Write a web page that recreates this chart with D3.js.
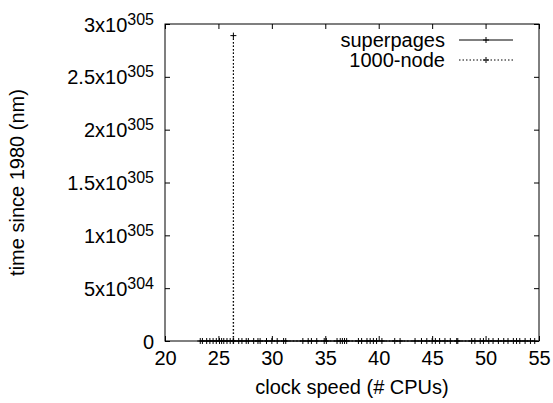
<!DOCTYPE html>
<html><head><meta charset="utf-8">
<script src="https://cdn.jsdelivr.net/npm/d3@7"></script>
<style>body{margin:0;background:#fff}svg{display:block}text{font-family:"Liberation Sans",Arial,Helvetica,sans-serif;fill:#000}</style>
</head><body><svg id="c" width="553" height="403"></svg>
<script>
// ---- data ----
const superpagesX = [23.3, 23.9, 24.5, 25.1, 25.5, 26.1, 26.9, 27.6, 28.3, 28.9, 30.0, 31.1, 32.9, 33.7, 34.9, 36.1, 36.6, 37.0, 38.4, 39.2, 39.8, 41.5, 43.4, 44.5, 45.3, 46.2, 47.3, 48.7, 49.5, 50.3, 51.2, 52.1, 52.9, 53.7, 54.6];
const superpagesY = [0, 0, 0, 0, 0, 0, 0, 0, 0, 0, 0, 0, 0, 0, 0, 0, 0, 0, 0, 0, 0, 0, 0, 0, 0, 0, 0, 0, 0, 0, 0, 0, 0, 0, 0];
const nodeX = [23.5, 24.2, 24.8, 25.3, 25.8, 26.38, 26.4, 26.42, 27.2, 27.8, 28.7, 29.5, 30.5, 31.3, 33.4, 34.2, 35.1, 36.4, 36.8, 38.1, 38.9, 39.5, 40.3, 42.0, 44.0, 45.0, 45.7, 46.7, 47.4, 49.0, 49.8, 50.7, 51.7, 52.6, 53.2, 54.2];
const nodeY = [0, 0, 0, 0, 0, 0, 2.89e305, 0, 0, 0, 0, 0, 0, 0, 0, 0, 0, 0, 0, 0, 0, 0, 0, 0, 0, 0, 0, 0, 0, 0, 0, 0, 0, 0, 0, 0];
const xTicks = [20, 25, 30, 35, 40, 45, 50, 55];
const yTicks = [0, 5e304, 1e305, 1.5e305, 2e305, 2.5e305, 3e305];
const yTickMant = ["0", "5", "1", "1.5", "2", "2.5", "3"];
const yTickExp = ["", "304", "305", "305", "305", "305", "305"];
const seriesNames = ["superpages", "1000-node"];
const xLabel = "clock speed (# CPUs)";
const yLabel = "time since 1980 (nm)";

// ---- layout ----
const L = 165, R = 539, T = 24, B = 341;
const svg = d3.select("#c");
const x = d3.scaleLinear().domain([20, 55]).range([L, R]);
const y = d3.scaleLinear().domain([0, 3e305]).range([B, T]);

const fs = 20;
// bottom axis
const gx = svg.append("g").attr("transform", `translate(0,${B})`)
  .call(d3.axisBottom(x).tickValues(xTicks).tickFormat(d3.format("d")).tickSizeInner(-5).tickSizeOuter(0));
gx.select(".domain").remove();
gx.selectAll("text").attr("dy", null).attr("y", 24).style("font-size", fs + "px");
// top mirror ticks
const gxt = svg.append("g").attr("transform", `translate(0,${T})`)
  .call(d3.axisTop(x).tickValues(xTicks).tickFormat("").tickSizeInner(-5).tickSizeOuter(0));
gxt.select(".domain").remove();
// left axis
const gy = svg.append("g").attr("transform", `translate(${L},0)`)
  .call(d3.axisLeft(y).tickValues(yTicks).tickSizeInner(-5).tickSizeOuter(0));
gy.select(".domain").remove();
gy.selectAll("text").each(function(d, i) {
  const t = d3.select(this).text("").attr("x", -11).attr("dy", null).attr("y", 7)
    .style("font-size", fs + "px").attr("text-anchor", "end");
  if (yTickExp[i] === "") { t.append("tspan").text(yTickMant[i]); }
  else {
    t.append("tspan").text(yTickMant[i] + "x10");
    t.append("tspan").attr("dy", -7).style("font-size", "16px").text(yTickExp[i]);
  }
});
// right mirror ticks
const gyr = svg.append("g").attr("transform", `translate(${R},0)`)
  .call(d3.axisRight(y).tickValues(yTicks).tickFormat("").tickSizeInner(-5).tickSizeOuter(0));
gyr.select(".domain").remove();
svg.selectAll(".tick line").attr("stroke", "#000");

// border
svg.append("rect").attr("x", L).attr("y", T).attr("width", R - L).attr("height", B - T)
  .attr("fill", "none").attr("stroke", "#000").attr("stroke-width", 1);

// labels
svg.append("text").attr("x", (L + R) / 2).attr("y", 394).attr("text-anchor", "middle")
  .style("font-size", fs + "px").text(xLabel);
svg.append("text").attr("transform", `translate(19,${(T + B) / 2}) rotate(-90)`).attr("text-anchor", "middle")
  .attr("dominant-baseline", "middle").style("font-size", fs + "px").text(yLabel);

const plus = "M-3,0H3M0,-3V3";
const line = d3.line().x(d => x(d[0])).y(d => y(d[1]));
function series(xs, ys, dash) {
  const pts = xs.map((v, i) => [v, ys[i]]);
  // draw as segments, each oriented from lower to higher point so dash patterns align
  const segs = d3.pairs(pts).map(([a, b]) => (a[1] <= b[1] ? [a, b] : [b, a]));
  svg.append("g").selectAll("path").data(segs).join("path")
    .attr("fill", "none").attr("stroke", "#000").attr("stroke-width", 1)
    .attr("stroke-dasharray", dash).attr("d", line);
  svg.append("g").selectAll("path").data(pts).join("path")
    .attr("transform", d => `translate(${x(d[0])},${y(d[1])})`)
    .attr("d", plus).attr("stroke", "#000").attr("stroke-width", 1);
}
series(nodeX, nodeY, "1.5,2");
series(superpagesX, superpagesY, null);

// legend
const legY = [40, 60];
const dashes = [null, "1.5,2"];
seriesNames.forEach((n, i) => {
  svg.append("text").attr("x", 445).attr("y", legY[i] + 7).attr("text-anchor", "end")
    .style("font-size", fs + "px").text(n);
  svg.append("line").attr("x1", 459).attr("x2", 513).attr("y1", legY[i]).attr("y2", legY[i])
    .attr("stroke", "#000").attr("stroke-dasharray", dashes[i]);
  svg.append("path").attr("transform", `translate(486,${legY[i]})`).attr("d", plus).attr("stroke", "#000");
});
</script></body></html>
